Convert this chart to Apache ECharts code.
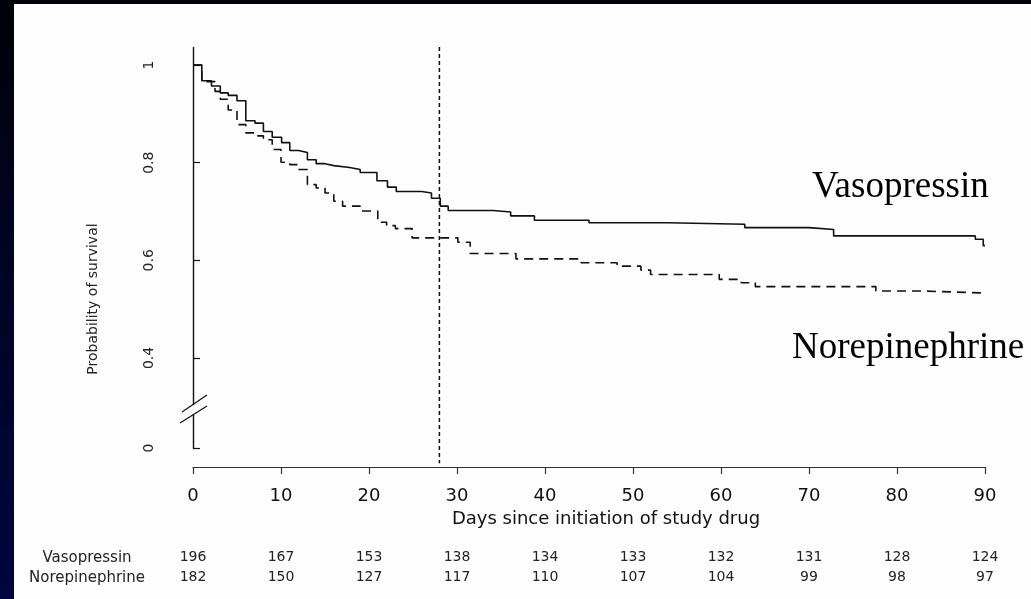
<!DOCTYPE html>
<html>
<head>
<meta charset="utf-8">
<title>Kaplan-Meier survival: Vasopressin vs Norepinephrine</title>
<script src="https://cdn.jsdelivr.net/npm/echarts@6/dist/echarts.min.js"></script>
<style>
  html, body { margin: 0; padding: 0; width: 1031px; height: 599px; overflow: hidden; }
  body { background: linear-gradient(to bottom, #010108 0%, #000526 50%, #00053e 100%); position: relative; }
  #panel { position: absolute; left: 14px; top: 4px; right: 0; bottom: 0; background: #fdfdfd; }
  #chart { position: absolute; left: 0; top: 0; width: 1031px; height: 599px; }
</style>
</head>
<body>
<div id="panel"></div>
<div id="chart"></div>
<script>
// Kaplan-Meier step estimates (day of event, survival after the event)
const vasoDays = [0, 1.0, 2.1, 3.1, 4.0, 5.0, 6.0, 7.05, 8.0, 9.0, 10.07, 11.0, 12.0, 13.0, 14.0, 15.0, 16.0, 17.8, 19.0, 20.9, 22.1, 23.1, 26.0, 27.1, 28.1, 29.0, 34.1, 36.1, 38.8, 45.0, 54.0, 62.7, 70.0, 72.8, 88.9, 89.8, 90];
const vasoSurv = [1.0, 0.968, 0.957, 0.943, 0.938, 0.927, 0.886, 0.881, 0.864, 0.852, 0.841, 0.825, 0.821, 0.806, 0.798, 0.794, 0.790, 0.786, 0.780, 0.763, 0.750, 0.741, 0.738, 0.727, 0.711, 0.702, 0.699, 0.691, 0.682, 0.677, 0.674, 0.667, 0.663, 0.650, 0.643, 0.630, 0.630];

const norDays = [0, 1.0, 2.5, 3.1, 4.0, 5.0, 6.0, 7.0, 8.0, 9.0, 10.0, 11.0, 12.0, 13.0, 14.0, 15.0, 16.0, 17.0, 19.0, 21.0, 22.0, 23.0, 24.9, 30.1, 31.5, 36.7, 44.1, 48.2, 50.9, 52.0, 59.8, 62.3, 63.9, 77.6, 83.1, 90];
const norSurv = [1.0, 0.966, 0.946, 0.930, 0.908, 0.878, 0.861, 0.855, 0.847, 0.827, 0.801, 0.796, 0.786, 0.755, 0.748, 0.738, 0.721, 0.711, 0.701, 0.678, 0.671, 0.665, 0.646, 0.637, 0.614, 0.603, 0.595, 0.588, 0.580, 0.571, 0.561, 0.554, 0.546, 0.537, 0.533, 0.533];

// Numbers at risk under the day ticks
const dayTicks = [0, 10, 20, 30, 40, 50, 60, 70, 80, 90];
const vasoAtRisk = [196, 167, 153, 138, 134, 133, 132, 131, 128, 124];
const norAtRisk = [182, 150, 127, 117, 110, 107, 104, 99, 98, 97];

const survTicks = [0, 0.4, 0.6, 0.8, 1];
// 28-day reference line, running from the top of the axis to just above the day axis
const cutoffDay = 28;
const cutoffSpan = [1.037, -0.031];

const groupNames = ['Vasopressin', 'Norepinephrine'];

const zip = (xs, ys) => xs.map((x, i) => [x, ys[i]]);
const sans = 'DejaVu Sans';
const ink = '#111';

const chart = echarts.init(document.getElementById('chart'), null, { renderer: 'canvas' });

const riskAxis = (offset, counts) => ({
  type: 'value', gridIndex: 0, position: 'bottom', offset: offset,
  min: 0, max: 90, interval: 10,
  axisLine: { show: false }, axisTick: { show: false }, splitLine: { show: false },
  axisLabel: {
    margin: 0, fontSize: 14, fontFamily: sans, color: '#222',
    formatter: v => { const i = dayTicks.indexOf(v); return i >= 0 ? String(counts[i]) : ''; }
  }
});

chart.setOption({
  animation: false,
  backgroundColor: 'transparent',
  grid: { left: 193, right: 46, top: 47, bottom: 151, containLabel: false },
  xAxis: [
    {
      type: 'value', min: 0, max: 90, interval: 10, position: 'bottom', offset: 19,
      axisLine: { show: true, onZero: false, lineStyle: { color: '#333', width: 1.2 } },
      axisTick: { show: true, length: 7, lineStyle: { color: '#333', width: 1.2 } },
      axisLabel: { margin: 20, fontSize: 18, fontFamily: sans, color: ink },
      splitLine: { show: false },
      name: 'Days since initiation of study drug',
      nameLocation: 'middle', nameGap: 43,
      nameTextStyle: { fontSize: 18, fontFamily: sans, color: ink, padding: [0, 0, 0, 34] }
    },
    riskAxis(102, vasoAtRisk),
    riskAxis(122, norAtRisk)
  ],
  yAxis: {
    type: 'value', min: 0, max: 1.037,
    breaks: [{ start: 0.07, end: 0.304, gap: 0.0185 }],
    breakArea: { show: false },
    axisLine: { show: true, lineStyle: { color: ink, width: 1.4 } },
    axisTick: { show: true, inside: true, length: 7, customValues: survTicks, lineStyle: { color: ink, width: 1.2 } },
    axisLabel: {
      customValues: survTicks, rotate: 90, margin: 37,
      fontSize: 14, fontFamily: sans, color: '#222',
      formatter: v => String(v)
    },
    splitLine: { show: false }
  },
  series: [
    {
      name: groupNames[0], type: 'line', step: 'end', symbol: 'none',
      xAxisIndex: 0, yAxisIndex: 0,
      data: zip(vasoDays, vasoSurv),
      lineStyle: { color: ink, width: 1.6 }
    },
    {
      name: groupNames[1], type: 'line', step: 'end', symbol: 'none',
      xAxisIndex: 0, yAxisIndex: 0,
      data: zip(norDays, norSurv),
      lineStyle: { color: ink, width: 1.6, type: [9, 6] }
    },
    {
      name: 'Day ' + cutoffDay, type: 'line', symbol: 'none', silent: true, clip: false,
      xAxisIndex: 0, yAxisIndex: 0,
      data: cutoffSpan.map(v => [cutoffDay, v]),
      lineStyle: { color: ink, width: 1.5, type: [4, 3] }
    }
  ],
  graphic: [
    // y axis title
    {
      type: 'text', x: 93, y: 299, rotation: Math.PI / 2, z: 100,
      style: { text: 'Probability of survival', fontSize: 14, fontFamily: sans, fill: '#222', align: 'center', verticalAlign: 'middle' }
    },
    // axis break: gap in the axis line and the two slashes
    { type: 'rect', z: 100, shape: { x: 188, y: 405, width: 10, height: 9 }, style: { fill: '#fdfdfd' } },
    { type: 'line', z: 101, shape: { x1: 182, y1: 412, x2: 207, y2: 395 }, style: { stroke: ink, lineWidth: 1.2 } },
    { type: 'line', z: 101, shape: { x1: 180, y1: 423, x2: 207, y2: 406 }, style: { stroke: ink, lineWidth: 1.2 } },
    // curve labels
    {
      type: 'text', x: 812, y: 187, z: 100,
      style: { text: groupNames[0], fontSize: 37, fontFamily: 'Liberation Serif', fill: '#000', align: 'left', verticalAlign: 'middle' }
    },
    {
      type: 'text', x: 792, y: 348, z: 100,
      style: { text: groupNames[1], fontSize: 37, fontFamily: 'Liberation Serif', fill: '#000', align: 'left', verticalAlign: 'middle' }
    },
    // number-at-risk row names
    {
      type: 'text', x: 87, y: 558, z: 100,
      style: { text: groupNames[0], fontSize: 15, fontFamily: sans, fill: '#222', align: 'center', verticalAlign: 'middle' }
    },
    {
      type: 'text', x: 87, y: 578, z: 100,
      style: { text: groupNames[1], fontSize: 15, fontFamily: sans, fill: '#222', align: 'center', verticalAlign: 'middle' }
    }
  ]
});
</script>
</body>
</html>
